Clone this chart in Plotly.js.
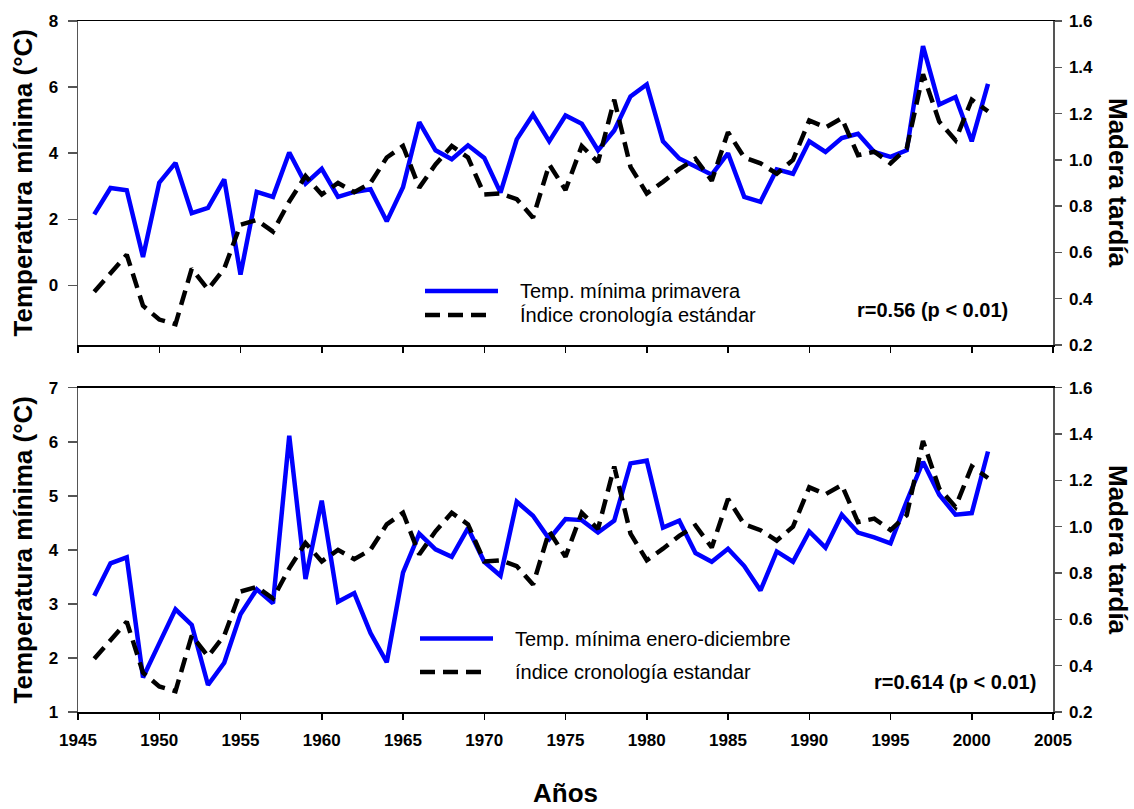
<!DOCTYPE html>
<html>
<head>
<meta charset="utf-8">
<script src="https://cdn.plot.ly/plotly-3.0.1.min.js"></script>
<style>
  html, body { margin: 0; padding: 0; background: #fff; }
  #chart { width: 1134px; height: 809px; }
</style>
</head>
<body>
<div id="chart"></div>
<script>
// Years of the series
const years = [
  1946, 1947, 1948, 1949, 1950, 1951, 1952, 1953, 1954, 1955,
  1956, 1957, 1958, 1959, 1960, 1961, 1962, 1963, 1964, 1965,
  1966, 1967, 1968, 1969, 1970, 1971, 1972, 1973, 1974, 1975,
  1976, 1977, 1978, 1979, 1980, 1981, 1982, 1983, 1984, 1985,
  1986, 1987, 1988, 1989, 1990, 1991, 1992, 1993, 1994, 1995,
  1996, 1997, 1998, 1999, 2000, 2001
];

// Spring minimum temperature (°C)
const tminPrimavera = [
  2.15, 2.95, 2.88, 0.86, 3.11, 3.71, 2.19, 2.35, 3.21, 0.33,
  2.83, 2.68, 4.02, 3.08, 3.53, 2.68, 2.83, 2.91, 1.94, 2.97,
  4.94, 4.09, 3.82, 4.24, 3.86, 2.81, 4.42, 5.17, 4.36, 5.14,
  4.89, 4.09, 4.69, 5.72, 6.08, 4.36, 3.84, 3.58, 3.35, 4.00,
  2.68, 2.53, 3.51, 3.38, 4.36, 4.04, 4.46, 4.59, 4.04, 3.89,
  4.09, 7.24, 5.47, 5.70, 4.36, 6.10
];

// January–December minimum temperature (°C)
const tminAnual = [
  3.15, 3.75, 3.86, 1.64, 2.27, 2.90, 2.61, 1.50, 1.91, 2.81,
  3.27, 3.01, 6.11, 3.46, 4.91, 3.04, 3.20, 2.46, 1.92, 3.58,
  4.30, 4.01, 3.87, 4.40, 3.78, 3.52, 4.89, 4.63, 4.20, 4.57,
  4.55, 4.32, 4.54, 5.60, 5.65, 4.41, 4.54, 3.94, 3.78, 4.02,
  3.70, 3.25, 3.97, 3.78, 4.34, 4.04, 4.65, 4.32, 4.23, 4.12,
  4.90, 5.63, 5.02, 4.65, 4.68, 5.82
];

// Standard latewood chronology index
const indiceMadera = [
  0.43, 0.51, 0.59, 0.37, 0.31, 0.29, 0.53, 0.44, 0.53, 0.72,
  0.74, 0.69, 0.82, 0.93, 0.85, 0.90, 0.86, 0.90, 1.01, 1.06,
  0.88, 0.98, 1.06, 1.01, 0.85, 0.855, 0.83, 0.75, 0.98, 0.87,
  1.06, 0.99, 1.26, 0.97, 0.855, 0.905, 0.96, 1.005, 0.91, 1.12,
  1.01, 0.985, 0.94, 1.00, 1.17, 1.14, 1.18, 1.02, 1.035, 0.985,
  1.05, 1.37, 1.165, 1.085, 1.26, 1.21
];

const legendTop = ['Temp. mínima primavera', 'Índice cronología estándar'];
const legendBottom = ['Temp. mínima enero-diciembre', 'índice cronología estandar'];
const corrTop = 'r=0.56 (p < 0.01)';
const corrBottom = 'r=0.614 (p < 0.01)';

const FONT = 'Arial, "Liberation Sans", Helvetica, sans-serif';
const BLUE = '#0000FF';
const DASH = '15px,8px';
const LW = 4.5;

const traces = [
  { x: years, y: tminPrimavera, xaxis: 'x', yaxis: 'y', type: 'scatter', mode: 'lines',
    line: { color: BLUE, width: LW }, showlegend: false },
  { x: years, y: indiceMadera, xaxis: 'x', yaxis: 'y2', type: 'scatter', mode: 'lines',
    line: { color: '#000', width: LW, dash: DASH }, showlegend: false },
  { x: years, y: tminAnual, xaxis: 'x2', yaxis: 'y3', type: 'scatter', mode: 'lines',
    line: { color: BLUE, width: LW }, showlegend: false },
  { x: years, y: indiceMadera, xaxis: 'x2', yaxis: 'y4', type: 'scatter', mode: 'lines',
    line: { color: '#000', width: LW, dash: DASH }, showlegend: false }
];

const tickFont = { family: FONT, size: 17, color: '#000', weight: 'bold' };

const xBase = {
  range: [1945, 2005], tick0: 1945, dtick: 5,
  showline: true, linecolor: '#000', linewidth: 1.5, mirror: true,
  ticks: 'outside', ticklen: 6, tickwidth: 1.5, tickcolor: '#000',
  ticklabelstandoff: 6,
  showgrid: false, zeroline: false, tickfont: tickFont
};
const yLeft = {
  showline: true, linecolor: '#555', linewidth: 1.5,
  ticks: 'outside', ticklen: 9, tickwidth: 1.5, tickcolor: '#555',
  ticklabelstandoff: 6,
  showgrid: false, zeroline: false, tickfont: tickFont
};
const yRight = Object.assign({}, yLeft, {
  side: 'right', range: [0.2, 1.6], tick0: 0.2, dtick: 0.2, tickformat: '.1f', ticklen: 7,
  ticklabelstandoff: 4
});

// Plot-area helpers (paper coordinates from pixel positions of the frame)
const L = 78, R = 81, T = 21, B = 97, W = 1134, H = 809;
const pw = W - L - R, ph = H - T - B;
const px = v => (v - L) / pw;
const py = v => (H - B - v) / ph;

const titleFont = { family: FONT, size: 26, color: '#000', weight: 'bold' };
const legFont = { family: FONT, size: 20, color: '#000' };
const corrFont = { family: FONT, size: 20, color: '#000', weight: 'bold' };

const annotations = [
  { text: 'Temperatura mínima (°C)', xref: 'paper', yref: 'paper', x: px(22.5), y: py(183),
    textangle: -90, showarrow: false, font: titleFont, xanchor: 'center', yanchor: 'middle' },
  { text: 'Temperatura mínima (°C)', xref: 'paper', yref: 'paper', x: px(22.5), y: py(550),
    textangle: -90, showarrow: false, font: titleFont, xanchor: 'center', yanchor: 'middle' },
  { text: 'Madera tardía', xref: 'paper', yref: 'paper', x: px(1118), y: py(183),
    textangle: 90, showarrow: false, font: titleFont, xanchor: 'center', yanchor: 'middle' },
  { text: 'Madera tardía', xref: 'paper', yref: 'paper', x: px(1118), y: py(550),
    textangle: 90, showarrow: false, font: titleFont, xanchor: 'center', yanchor: 'middle' },
  { text: 'Años', xref: 'paper', yref: 'paper', x: px(565), y: py(793),
    showarrow: false, font: titleFont, xanchor: 'center', yanchor: 'middle' },
  // legend labels
  { text: legendTop[0], xref: 'paper', yref: 'paper', x: px(518), y: py(291),
    showarrow: false, font: legFont, xanchor: 'left', yanchor: 'middle' },
  { text: legendTop[1], xref: 'paper', yref: 'paper', x: px(518), y: py(315),
    showarrow: false, font: legFont, xanchor: 'left', yanchor: 'middle' },
  { text: legendBottom[0], xref: 'paper', yref: 'paper', x: px(513), y: py(638.5),
    showarrow: false, font: legFont, xanchor: 'left', yanchor: 'middle' },
  { text: legendBottom[1], xref: 'paper', yref: 'paper', x: px(513), y: py(672),
    showarrow: false, font: legFont, xanchor: 'left', yanchor: 'middle' },
  // correlation notes
  { text: corrTop, xref: 'paper', yref: 'paper', x: px(932.5), y: py(310),
    showarrow: false, font: corrFont, xanchor: 'center', yanchor: 'middle' },
  { text: corrBottom, xref: 'paper', yref: 'paper', x: px(955), y: py(682),
    showarrow: false, font: corrFont, xanchor: 'center', yanchor: 'middle' }
];

// legend key samples
const shapes = [
  { type: 'line', xref: 'paper', yref: 'paper', x0: px(425), x1: px(498), y0: py(291), y1: py(291),
    line: { color: BLUE, width: LW } },
  { type: 'line', xref: 'paper', yref: 'paper', x0: px(425), x1: px(488), y0: py(315), y1: py(315),
    line: { color: '#000', width: LW, dash: DASH } },
  { type: 'line', xref: 'paper', yref: 'paper', x0: px(420), x1: px(493), y0: py(638.5), y1: py(638.5),
    line: { color: BLUE, width: LW } },
  { type: 'line', xref: 'paper', yref: 'paper', x0: px(420), x1: px(483), y0: py(672), y1: py(672),
    line: { color: '#000', width: LW, dash: DASH } }
];

const layout = {
  width: W, height: H,
  margin: { l: L, r: R, t: T, b: B },
  paper_bgcolor: '#fff', plot_bgcolor: '#fff',
  font: { family: FONT, color: '#000' },
  showlegend: false,
  xaxis: Object.assign({}, xBase, { anchor: 'y', showticklabels: false }),
  xaxis2: Object.assign({}, xBase, { anchor: 'y3' }),
  yaxis: Object.assign({}, yLeft, { domain: [py(345), 1], range: [-1.8, 8], tick0: 0, dtick: 2, anchor: 'x' }),
  yaxis2: Object.assign({}, yRight, { overlaying: 'y', anchor: 'x' }),
  yaxis3: Object.assign({}, yLeft, { domain: [0, py(387.7)], range: [1, 7], tick0: 1, dtick: 1, anchor: 'x2' }),
  yaxis4: Object.assign({}, yRight, { overlaying: 'y3', anchor: 'x2' }),
  annotations: annotations,
  shapes: shapes
};

Plotly.newPlot('chart', traces, layout, { displayModeBar: false, staticPlot: true });
</script>
</body>
</html>
